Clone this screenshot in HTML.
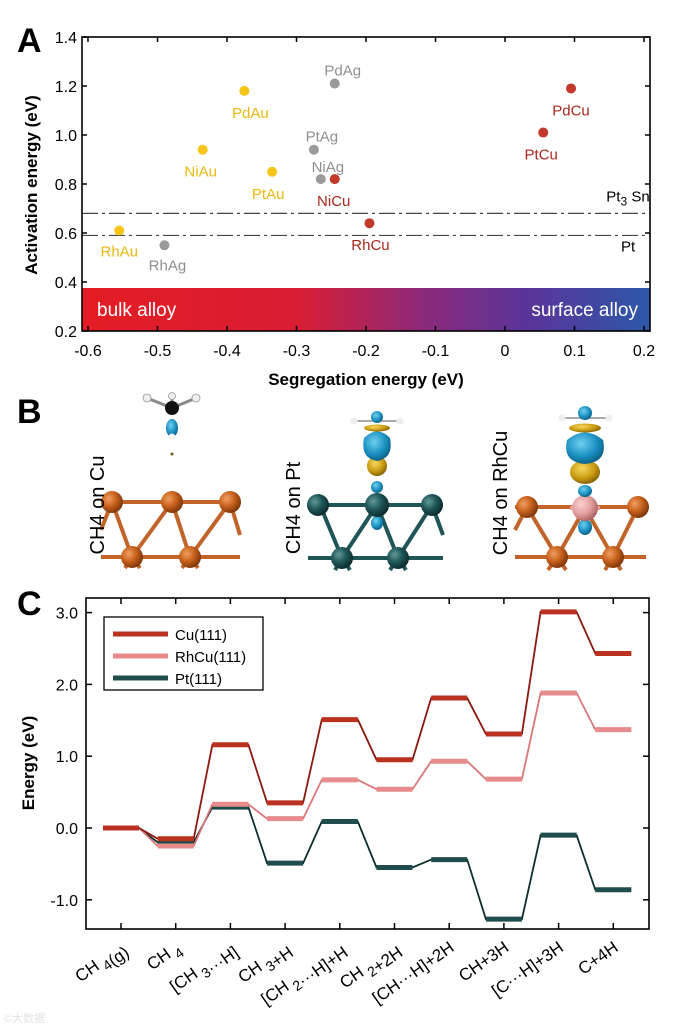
<!DOCTYPE html>
<html><head><meta charset="utf-8"><style>
html,body{margin:0;padding:0;background:#fff;}
svg{display:block;font-family:"Liberation Sans",Arial,sans-serif;}
</style></head><body>
<svg id="fig" width="680" height="1028" viewBox="0 0 680 1028" xmlns="http://www.w3.org/2000/svg">
<defs>
<linearGradient id="alloyGrad" x1="0" x2="1" y1="0" y2="0">
<stop offset="0" stop-color="#e41d25"/><stop offset="0.38" stop-color="#d91d33"/>
<stop offset="0.6" stop-color="#8c2a7a"/><stop offset="0.78" stop-color="#5a3499"/><stop offset="1" stop-color="#2d58a8"/>
</linearGradient>
<radialGradient id="cuAtom" cx="0.35" cy="0.35" r="0.7"><stop offset="0" stop-color="#f0a060"/><stop offset="0.5" stop-color="#c8621e"/><stop offset="1" stop-color="#7a3308"/></radialGradient>
<radialGradient id="ptAtom" cx="0.35" cy="0.35" r="0.7"><stop offset="0" stop-color="#5f9a98"/><stop offset="0.5" stop-color="#1f5557"/><stop offset="1" stop-color="#0b2a2c"/></radialGradient>
<radialGradient id="rhAtom" cx="0.35" cy="0.35" r="0.7"><stop offset="0" stop-color="#fbd0d0"/><stop offset="0.6" stop-color="#e09a9a"/><stop offset="1" stop-color="#a86060"/></radialGradient>
<radialGradient id="blueLobe" cx="0.4" cy="0.35" r="0.7"><stop offset="0" stop-color="#6fd0f0"/><stop offset="0.6" stop-color="#1a8fc0"/><stop offset="1" stop-color="#0b5a80"/></radialGradient>
<radialGradient id="goldLobe" cx="0.4" cy="0.35" r="0.7"><stop offset="0" stop-color="#f8d860"/><stop offset="0.6" stop-color="#c99a10"/><stop offset="1" stop-color="#7a5a05"/></radialGradient>
</defs>

<!-- PANEL A -->
<g id="panelA">
<text x="17" y="52" font-family="Liberation Sans Narrow,Liberation Sans,sans-serif" font-weight="bold" font-size="34">A</text>
<rect x="82" y="288" width="568" height="43" fill="url(#alloyGrad)"/>
<text x="97" y="316" fill="#fff" font-size="19">bulk alloy</text>
<text x="638" y="316" fill="#fff" font-size="19" text-anchor="end">surface alloy</text>
<g id="aTicks"></g>
<g id="aRefLines"></g>
<g id="aPoints"></g>
<rect x="82" y="37" width="568" height="294" fill="none" stroke="#000" stroke-width="1.6"/>
<text transform="translate(37,185) rotate(-90)" text-anchor="middle" font-weight="bold" font-size="17">Activation energy (eV)</text>
<text x="366" y="385" text-anchor="middle" font-weight="bold" font-size="17">Segregation energy (eV)</text>
</g>

<!-- PANEL B -->
<g id="panelB">
<text x="17" y="423" font-family="Liberation Sans Narrow,Liberation Sans,sans-serif" font-weight="bold" font-size="34">B</text>
<g>
<g stroke="#c0642a" stroke-width="4">
<line x1="101" y1="502" x2="240" y2="502"/><line x1="101" y1="557" x2="240" y2="557"/>
<line x1="112" y1="502" x2="132" y2="557"/><line x1="132" y1="557" x2="172" y2="502"/><line x1="172" y1="502" x2="190" y2="557"/><line x1="190" y1="557" x2="230" y2="502"/><line x1="230" y1="502" x2="240" y2="535"/>
<line x1="101" y1="530" x2="112" y2="502"/><line x1="132" y1="557" x2="125" y2="568"/><line x1="132" y1="557" x2="140" y2="568"/><line x1="190" y1="557" x2="182" y2="568"/><line x1="190" y1="557" x2="198" y2="568"/>
</g>
<circle cx="112" cy="502" r="11" fill="url(#cuAtom)"/><circle cx="172" cy="502" r="11" fill="url(#cuAtom)"/><circle cx="230" cy="502" r="11" fill="url(#cuAtom)"/>
<circle cx="132" cy="557" r="11" fill="url(#cuAtom)"/><circle cx="190" cy="557" r="11" fill="url(#cuAtom)"/>
</g>
<g>
<line x1="147" y1="398" x2="172" y2="408" stroke="#888" stroke-width="3"/><line x1="196" y1="398" x2="172" y2="408" stroke="#888" stroke-width="3"/><line x1="172" y1="397" x2="172" y2="408" stroke="#888" stroke-width="3"/>
<circle cx="147" cy="398" r="4" fill="#eee" stroke="#999" stroke-width="0.8"/><circle cx="196" cy="398" r="4" fill="#eee" stroke="#999" stroke-width="0.8"/><circle cx="172" cy="396" r="3.5" fill="#eee" stroke="#999" stroke-width="0.8"/>
<circle cx="172" cy="408" r="7" fill="#111"/>
<ellipse cx="172" cy="428" rx="6" ry="9" fill="url(#blueLobe)"/>
<circle cx="172" cy="437" r="3.5" fill="#f4f4f4"/>
<circle cx="172" cy="454" r="1.5" fill="#6a5a20"/>
</g>
<text transform="translate(104,505) rotate(-90)" text-anchor="middle" font-size="20">CH4 on Cu</text>

<g>
<g stroke="#1f5557" stroke-width="4">
<line x1="308" y1="505" x2="443" y2="505"/><line x1="308" y1="558" x2="443" y2="558"/>
<line x1="320" y1="505" x2="342" y2="558"/><line x1="342" y1="558" x2="377" y2="505"/><line x1="377" y1="505" x2="398" y2="558"/><line x1="398" y1="558" x2="432" y2="505"/><line x1="432" y1="505" x2="443" y2="535"/>
<line x1="342" y1="558" x2="335" y2="570"/><line x1="342" y1="558" x2="350" y2="570"/><line x1="398" y1="558" x2="390" y2="570"/><line x1="398" y1="558" x2="406" y2="570"/>
</g>
<circle cx="318" cy="505" r="11" fill="url(#ptAtom)"/><circle cx="432" cy="505" r="11" fill="url(#ptAtom)"/>
<circle cx="342" cy="558" r="11" fill="url(#ptAtom)"/><circle cx="398" cy="558" r="11" fill="url(#ptAtom)"/>
<ellipse cx="377" cy="523" rx="6" ry="7" fill="url(#blueLobe)"/>
<circle cx="377" cy="505" r="12" fill="url(#ptAtom)"/>
</g>
<g>
<ellipse cx="377" cy="487" rx="6" ry="6" fill="url(#blueLobe)"/>
<circle cx="377" cy="466" r="10" fill="url(#goldLobe)"/>
<path d="M364,438 Q377,425 390,438 Q394,458 377,461 Q360,458 364,438 Z" fill="url(#blueLobe)"/>
<line x1="354" y1="421" x2="400" y2="421" stroke="#aaa" stroke-width="2"/>
<circle cx="354" cy="421" r="3.5" fill="#eee"/><circle cx="400" cy="421" r="3.5" fill="#eee"/>
<ellipse cx="377" cy="428" rx="13" ry="3.5" fill="url(#goldLobe)"/>
<circle cx="377" cy="417" r="6" fill="url(#blueLobe)"/>
</g>
<text transform="translate(300,508) rotate(-90)" text-anchor="middle" font-size="20">CH4 on Pt</text>

<g>
<g stroke="#c0642a" stroke-width="4">
<line x1="515" y1="507" x2="646" y2="507" /><line x1="515" y1="557" x2="646" y2="557"/>
<line x1="527" y1="507" x2="557" y2="557"/><line x1="557" y1="557" x2="585" y2="508"/><line x1="585" y1="508" x2="613" y2="557"/><line x1="613" y1="557" x2="638" y2="507"/>
<line x1="515" y1="530" x2="527" y2="507"/><line x1="557" y1="557" x2="548" y2="570"/><line x1="557" y1="557" x2="566" y2="570"/><line x1="613" y1="557" x2="605" y2="570"/><line x1="613" y1="557" x2="621" y2="570"/>
</g>
<line x1="570" y1="508" x2="600" y2="508" stroke="#e6a0a0" stroke-width="4"/>
<circle cx="527" cy="507" r="11" fill="url(#cuAtom)"/><circle cx="638" cy="507" r="11" fill="url(#cuAtom)"/>
<circle cx="557" cy="557" r="11" fill="url(#cuAtom)"/><circle cx="613" cy="557" r="11" fill="url(#cuAtom)"/>
<ellipse cx="585" cy="527" rx="7" ry="8" fill="url(#blueLobe)"/>
<circle cx="585" cy="508" r="13" fill="url(#rhAtom)"/>
</g>
<g>
<ellipse cx="585" cy="491" rx="7" ry="6" fill="url(#blueLobe)"/>
<ellipse cx="585" cy="472" rx="15" ry="12" fill="url(#goldLobe)"/>
<path d="M567,440 Q585,425 603,440 Q608,462 585,464 Q562,462 567,440 Z" fill="url(#blueLobe)"/>
<line x1="562" y1="418" x2="609" y2="418" stroke="#aaa" stroke-width="2"/>
<circle cx="562" cy="418" r="3.5" fill="#eee"/><circle cx="609" cy="418" r="3.5" fill="#eee"/>
<ellipse cx="585" cy="428" rx="16" ry="4.5" fill="url(#goldLobe)"/>
<circle cx="585" cy="413" r="7" fill="url(#blueLobe)"/>
</g>
<text transform="translate(507,493) rotate(-90)" text-anchor="middle" font-size="20">CH4 on RhCu</text>
</g>

<!-- PANEL C -->
<g id="panelC">
<text x="17" y="615" font-family="Liberation Sans Narrow,Liberation Sans,sans-serif" font-weight="bold" font-size="34">C</text>
<g id="cTicks"></g>
<g id="cSeries"></g>
<rect x="86" y="598" width="563" height="331" fill="none" stroke="#000" stroke-width="1.6"/>
<g>
<rect x="104" y="617" width="159" height="73" fill="#fff" stroke="#000" stroke-width="1.3"/>
<g id="legendEntries"></g>
</g>
<text transform="translate(34,763) rotate(-90)" text-anchor="middle" font-weight="bold" font-size="17">Energy (eV)</text>
<g id="cXLabels"></g>
</g>
<text x="4" y="1022" fill="#e2e2e2" font-size="11" font-family="Liberation Sans,Noto Sans CJK SC,sans-serif">©大数据</text>
</svg>
<script>
// ===== Panel A data =====
const alloyNames = ["RhAu","RhAg","NiAu","PdAu","PtAu","PtAg","NiAg","NiCu","PdAg","RhCu","PtCu","PdCu"];
const segEnergy = [-0.555,-0.49,-0.435,-0.375,-0.335,-0.275,-0.265,-0.245,-0.245,-0.195,0.055,0.095];
const actEnergy = [0.61,0.55,0.94,1.18,0.85,0.94,0.82,0.82,1.21,0.64,1.01,1.19];
const alloyGroup = ["Au","Ag","Au","Au","Au","Ag","Ag","Cu","Ag","Cu","Cu","Cu"];
const refNames = ["Pt3Sn","Pt"];
const refValues = [0.68,0.59];
const aXTicks = [-0.6,-0.5,-0.4,-0.3,-0.2,-0.1,0,0.1,0.2];
const aXTickLabels = ["-0.6","-0.5","-0.4","-0.3","-0.2","-0.1","0","0.1","0.2"];
const aYTicks = [0.2,0.4,0.6,0.8,1.0,1.2,1.4];
const aYTickLabels = ["0.2","0.4","0.6","0.8","1.0","1.2","1.4"];

// ===== Panel C data =====
const stepLabels = ["CH4(g)","CH4","[CH3···H]","CH3+H","[CH2···H]+H","CH2+2H","[CH···H]+2H","CH+3H","[C···H]+3H","C+4H"];
const seriesNames = ["Cu(111)","RhCu(111)","Pt(111)"];
const cuEnergy = [0,-0.15,1.16,0.35,1.51,0.95,1.81,1.31,3.01,2.43];
const rhcuEnergy = [0,-0.25,0.33,0.13,0.67,0.54,0.93,0.68,1.88,1.37];
const ptEnergy = [0,-0.20,0.29,-0.49,0.09,-0.55,-0.44,-1.27,-0.10,-0.86];
const cYTicks = [-1,0,1,2,3];
const cYTickLabels = ["-1.0","0.0","1.0","2.0","3.0"];

const NS = "http://www.w3.org/2000/svg";
function mk(tag, attrs, parent){const e=document.createElementNS(NS,tag);for(const k in attrs)e.setAttribute(k,attrs[k]);parent.appendChild(e);return e;}

const axL=82, axR=650, axT=37, axB=331;
function xA(v){return 505 + v*695;}
function yA(v){return axB - (v-0.2)*(axB-axT)/1.2;}
const aTicks=document.getElementById('aTicks');
aXTicks.forEach((v,i)=>{
  const x=xA(v);
  const t1=mk('line',{x1:x,y1:axB,x2:x,y2:axB-5,stroke:'#000','stroke-width':1.5},aTicks);
  
  
  const t2=mk('line',{x1:x,y1:axT,x2:x,y2:axT+5,stroke:'#000','stroke-width':1.5},aTicks);
  
  
  const l=mk('text',{x:x,y:356,'text-anchor':'middle','font-size':16},aTicks);
  l.textContent=aXTickLabels[i];
  
  
});
aYTicks.forEach((v,i)=>{
  const y=yA(v);
  const t1=mk('line',{x1:axL,y1:y,x2:axL+5,y2:y,stroke:'#000','stroke-width':1.5},aTicks);
  
  
  const t2=mk('line',{x1:axR,y1:y,x2:axR-5,y2:y,stroke:'#000','stroke-width':1.5},aTicks);
  
  
  const l=mk('text',{x:77,y:y+6,'text-anchor':'end','font-size':16},aTicks);
  l.textContent=aYTickLabels[i];
  
  
});
const aRef=document.getElementById('aRefLines');
refValues.forEach((v,i)=>{
  const y=yA(v);
  const ln=mk('line',{x1:axL,y1:y,x2:axR,y2:y,stroke:'#444','stroke-width':1.2,'stroke-dasharray':'16 4 3 4'},aRef);
  
  
});
const rl1=mk('text',{x:628,y:yA(refValues[0])-12,'font-size':15,'text-anchor':'middle'},aRef);
rl1.innerHTML='Pt<tspan dy="4" font-size="12">3</tspan><tspan dy="-4"> Sn</tspan>';


const rl2=mk('text',{x:621,y:yA(refValues[1])+16,'font-size':15},aRef);
rl2.textContent='Pt';



const groupColor={Au:'#f5c518',Ag:'#9a9a9a',Cu:'#c0392b'};
const textColor={Au:'#e9b90f',Ag:'#8f8f8f',Cu:'#a8281c'};
const labelDx=[0,3,-2,6,-4,8,7,-1,8,1,-2,0];
const labelDy=[21,20,22,22,22,-13,-12,22,-13,22,22,22];
const aPts=document.getElementById('aPoints');
alloyNames.forEach((n,i)=>{
  const cx=xA(segEnergy[i]), cy=yA(actEnergy[i]);
  const c=mk('circle',{cx:cx,cy:cy,r:5,fill:groupColor[alloyGroup[i]]},aPts);
  
  
  const t=mk('text',{x:cx+labelDx[i],y:cy+labelDy[i]+5,'text-anchor':'middle','font-size':15,fill:textColor[alloyGroup[i]]},aPts);
  t.textContent=n;
  
  
});

// ===== Panel C =====
const cL=86,cR=649,cT=598,cB=929;
function xC(i){return 121 + i*54.7;}
function yC(v){return 828 - v*71.8;}
const cTicks=document.getElementById('cTicks');
stepLabels.forEach((s,i)=>{
  const x=xC(i);
  const t1=mk('line',{x1:x,y1:cB,x2:x,y2:cB-6,stroke:'#000','stroke-width':1.5},cTicks);
  
  
  const t2=mk('line',{x1:x,y1:cT,x2:x,y2:cT+6,stroke:'#000','stroke-width':1.5},cTicks);
  
  
});
cYTicks.forEach((v,i)=>{
  const y=yC(v);
  const t1=mk('line',{x1:cL,y1:y,x2:cL+6,y2:y,stroke:'#000','stroke-width':1.5},cTicks);
  
  
  const t2=mk('line',{x1:cR,y1:y,x2:cR-6,y2:y,stroke:'#000','stroke-width':1.5},cTicks);
  
  
  const l=mk('text',{x:78,y:y+6,'text-anchor':'end','font-size':16},cTicks);
  l.textContent=cYTickLabels[i];
  
  
});
const seriesData=[cuEnergy,rhcuEnergy,ptEnergy];
const seriesColor=['#b8321f','#e88b8c','#1f4d4b'];
const lineColor=['#8a1a10','#d97878','#0e2e2d'];
const cSer=document.getElementById('cSeries');
const hw=18;
[2,1,0].forEach(si=>{
  const data=seriesData[si];
  const g=mk('g',{},cSer);
  
  
  let d='';
  data.forEach((v,i)=>{
    if(i>0){d+=' L'+(xC(i)-hw)+','+yC(v);}
    else d='M'+(xC(i)-hw)+','+yC(v);
    d+=' L'+(xC(i)+hw)+','+yC(v);
  });
  const p=mk('path',{d:d,fill:'none',stroke:lineColor[si],'stroke-width':1.8},g);
  
  
  data.forEach((v,i)=>{
    const r=mk('line',{x1:xC(i)-hw,y1:yC(v),x2:xC(i)+hw,y2:yC(v),stroke:seriesColor[si],'stroke-width':5},g);
    
    
  });
});
const lg=document.getElementById('legendEntries');
seriesNames.forEach((n,i)=>{
  const y=634+i*22;
  const l=mk('line',{x1:113,y1:y,x2:168,y2:y,stroke:seriesColor[i],'stroke-width':5},lg);
  
  
  const t=mk('text',{x:175,y:y+6,'font-size':15},lg);
  t.textContent=n;
  
  
});
const xl=document.getElementById('cXLabels');
stepLabels.forEach((s,i)=>{
  const x=xC(i)+6;
  const t=mk('text',{'text-anchor':'end','font-size':17,transform:'translate('+x+',950) rotate(-35)'},xl);
  t.innerHTML=s.replace(/CH(\d)/g,'CH<tspan dy="6" font-size="14"> $1</tspan><tspan dy="-6"></tspan>');
  
  
});
</script>
</body></html>
